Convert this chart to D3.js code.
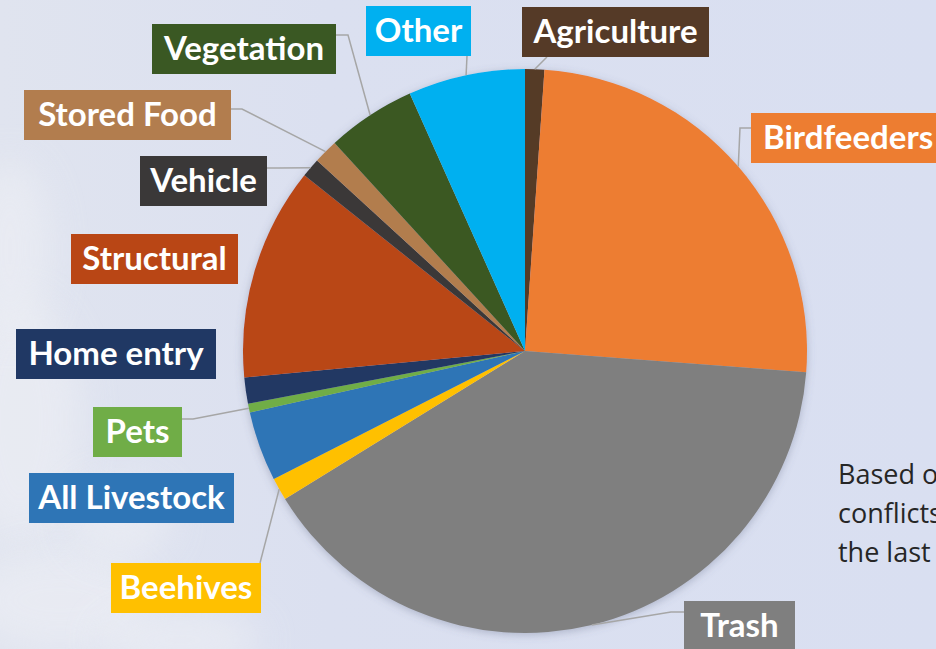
<!doctype html>
<html>
  <head>
    <script src="https://cdnjs.cloudflare.com/ajax/libs/d3/7.8.5/d3.min.js"></script>
    <style>
      html, body { margin: 0; padding: 0; overflow: hidden; }
      body { width: 936px; height: 649px; background: #d9dff0; }
    </style>
  </head>
  <body>
    <svg id="chart" width="936" height="649"></svg>
    <script>
        // slices, clockwise from 12 o'clock (percent of conflicts)
        var categories = ["Agriculture", "Birdfeeders", "Trash", "Beehives", "All Livestock", "Pets",
                          "Home entry", "Structural", "Vehicle", "Stored Food", "Vegetation", "Other"];
        var values = [1.1, 25.1, 40.0, 1.3, 4.0, 0.5, 1.5, 12.2, 1.1, 1.4, 5.1, 6.7];
        var colors = ["#553a27", "#ed7d31", "#7f7f7f", "#ffc000", "#2e75b6", "#70ad47",
                      "#203864", "#b94615", "#3a3838", "#b27d4e", "#3a5823", "#00b0f0"];
        var noteLines = ["Based on", "conflicts", "the last"];

        // label box layout (x, y, width) and where the leader meets the box
        var labelLayout = {
            "Agriculture":   {x: 522, y: 7,   w: 187, ax: 547, ay: 57},
            "Birdfeeders":   {x: 751, y: 113, w: 200, ax: 751, ay: 128, ex: 740},
            "Trash":         {x: 684, y: 601, w: 111, ax: 684, ay: 612, ex: 671},
            "Beehives":      {x: 111, y: 563, w: 150, ax: 260, ay: 563},
            "All Livestock": {x: 29,  y: 473, w: 205},
            "Pets":          {x: 93,  y: 407, w: 89,  ax: 182, ay: 419, ex: 193},
            "Home entry":    {x: 16,  y: 329, w: 200},
            "Structural":    {x: 71,  y: 234, w: 167},
            "Vehicle":       {x: 140, y: 156, w: 127, ax: 267, ay: 168, ex: 279},
            "Stored Food":   {x: 24,  y: 90,  w: 207, ax: 231, ay: 109, ex: 242},
            "Vegetation":    {x: 152, y: 24,  w: 184, ax: 336, ay: 35,  ex: 348},
            "Other":         {x: 366, y: 6,   w: 105, ax: 467, ay: 56}
        };

        var cx = 525, cy = 351, radius = 282;

        var svg = d3.select("#chart");
        var defs = svg.append("defs");

        var bg = defs.append("linearGradient").attr("id", "bg")
            .attr("x1", "0").attr("x2", "1").attr("y1", "0").attr("y2", "0");
        bg.append("stop").attr("offset", "0").attr("stop-color", "#e0e4ef");
        bg.append("stop").attr("offset", "0.35").attr("stop-color", "#dbe0f0");
        bg.append("stop").attr("offset", "1").attr("stop-color", "#d9dff1");

        var blur = defs.append("filter").attr("id", "blur")
            .attr("x", "-50%").attr("y", "-50%").attr("width", "200%").attr("height", "200%");
        blur.append("feGaussianBlur").attr("stdDeviation", 18);

        var shadow = defs.append("filter").attr("id", "shadow")
            .attr("x", "-10%").attr("y", "-10%").attr("width", "120%").attr("height", "120%");
        shadow.append("feDropShadow").attr("dx", 0).attr("dy", 2)
            .attr("stdDeviation", 4).attr("flood-color", "#5a6480").attr("flood-opacity", 0.35);

        svg.append("rect").attr("width", 936).attr("height", 649).attr("fill", "url(#bg)");

        // pale watercolour blotches on the left side
        var blotches = [[20, 420, 60, 120], [60, 600, 90, 50], [10, 250, 40, 90], [180, 640, 80, 30], [120, 520, 50, 40]];
        svg.append("g").selectAll("ellipse")
            .data(blotches)
            .enter()
            .append("ellipse")
                .attr("cx", d => d[0]).attr("cy", d => d[1])
                .attr("rx", d => d[2]).attr("ry", d => d[3])
                .attr("fill", "#eceef4").attr("opacity", 0.7)
                .attr("filter", "url(#blur)");

        var slices = categories.map((c, i) => ({name: c, value: values[i], color: colors[i]}));

        var pie = d3.pie().sort(null).value(d => d.value);
        var arc = d3.arc().innerRadius(0).outerRadius(radius);
        var arcs = pie(slices);

        var g = svg.append("g").attr("transform", "translate(" + cx + "," + cy + ")");

        g.append("g").attr("filter", "url(#shadow)")
            .selectAll("path")
            .data(arcs)
            .enter()
            .append("path")
                .attr("d", arc)
                .style("fill", d => d.data.color);

        // leader lines, from the slice mid-angle on the rim to the label box
        var lineGen = d3.line();
        svg.append("g").selectAll("path")
            .data(arcs.filter(d => labelLayout[d.data.name].ax !== undefined))
            .enter()
            .append("path")
                .attr("d", d => {
                    var L = labelLayout[d.data.name];
                    var a = (d.startAngle + d.endAngle) / 2;
                    var pts = [[cx + radius * Math.sin(a), cy - radius * Math.cos(a)]];
                    if (L.ex !== undefined) pts.push([L.ex, L.ay]);
                    pts.push([L.ax, L.ay]);
                    return lineGen(pts);
                })
                .style("fill", "none")
                .style("stroke", "#a6a6a6")
                .style("stroke-width", 1.5);

        var labels = svg.append("g").selectAll("g")
            .data(arcs)
            .enter()
            .append("g")
                .attr("transform", d => {
                    var L = labelLayout[d.data.name];
                    return "translate(" + L.x + "," + L.y + ")";
                });

        labels.append("rect")
            .attr("width", d => labelLayout[d.data.name].w)
            .attr("height", 50)
            .style("fill", d => d.data.color);

        labels.append("text")
            .attr("x", d => d.data.name == "Birdfeeders" ? 12 : labelLayout[d.data.name].w / 2)
            .attr("y", 36)
            .attr("text-anchor", d => d.data.name == "Birdfeeders" ? "start" : "middle")
            .style("font-family", "Lato, 'Open Sans', sans-serif")
            .style("font-weight", "700")
            .style("font-size", "33px")
            .style("fill", "#ffffff")
            .text(d => d.data.name);

        svg.append("g").selectAll("text")
            .data(noteLines)
            .enter()
            .append("text")
                .attr("x", 838)
                .attr("y", (d, i) => 484 + i * 39)
                .style("font-family", "'Open Sans', 'Noto Sans', sans-serif")
                .style("font-size", "27px")
                .style("fill", "#262626")
                .text(d => d);
    </script>
  </body>
</html>
